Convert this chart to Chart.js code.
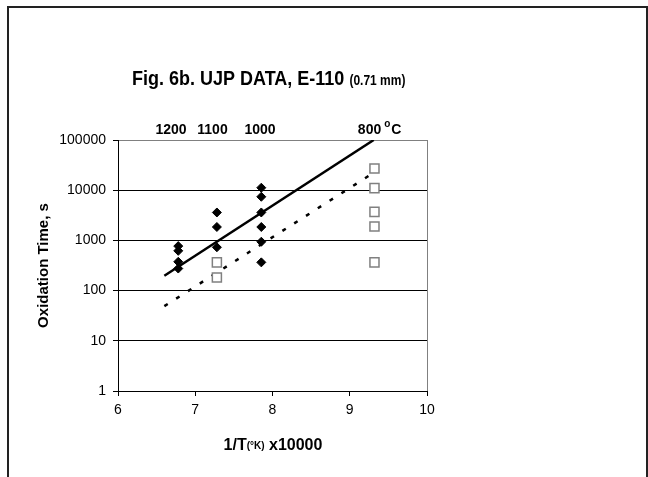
<!DOCTYPE html>
<html>
<head>
<meta charset="utf-8">
<script src="https://cdn.jsdelivr.net/npm/chart.js@4/dist/chart.umd.min.js"></script>
<style>
  html, body { margin: 0; padding: 0; background: #fff; }
  #wrap { width: 648px; height: 477px; }
</style>
</head>
<body>
<div id="wrap"><canvas id="c" width="648" height="477"></canvas></div>
<script>
// ---- data ----
const xTicks = [6, 7, 8, 9, 10];
const yTicks = [1, 10, 100, 1000, 10000, 100000];

// 1/T x 10000 for 1200, 1100, 1000, 800 °C
const diamondX = [6.78, 6.78, 6.78, 6.78, 7.28, 7.28, 7.28, 7.855, 7.855, 7.855, 7.855, 7.855, 7.855];
const diamondY = [770, 620, 375, 275, 3600, 1850, 730, 11200, 7400, 3600, 1850, 940, 365];

const squareX = [7.28, 7.28, 9.32, 9.32, 9.32, 9.32, 9.32];
const squareY = [365, 183, 27000, 11000, 3700, 1900, 365];

const solidLineX = [6.6, 9.31];
const solidLineY = [198, 100000];

const dashLineX = [6.6, 9.25];
const dashLineY = [49, 19500];

const topLabels = ['1200', '1100', '1000', '800'];
const topLabelX = [6.686, 7.223, 7.838, 9.256];

const titleMain = 'Fig. 6b. UJP DATA, E-110';
const titleSub = '(0.71 mm)';
const yTitle = 'Oxidation Time, s';

const pts = (xs, ys) => xs.map((x, i) => ({ x: x, y: ys[i] }));

const FONT = '"Liberation Sans", Arial, sans-serif';

const decor = {
  id: 'decor',
  afterDraw(chart) {
    const ctx = chart.ctx;
    const ca = chart.chartArea;
    const xs = chart.scales.x;
    ctx.save();
    // outer frame
    ctx.strokeStyle = '#222';
    ctx.lineWidth = 2;
    ctx.strokeRect(8, 7, 639, 490);
    // right border of plot area
    ctx.strokeStyle = '#808080';
    ctx.lineWidth = 1;
    ctx.beginPath();
    ctx.moveTo(Math.round(ca.right) + 0.5, ca.top);
    ctx.lineTo(Math.round(ca.right) + 0.5, ca.bottom);
    ctx.stroke();

    ctx.fillStyle = '#000';
    ctx.textBaseline = 'alphabetic';
    // title
    ctx.save();
    ctx.translate(132, 85);
    ctx.scale(1, 1.15);
    ctx.font = 'bold 18px ' + FONT;
    ctx.textAlign = 'left';
    ctx.fillText(titleMain, 0, 0);
    const w1 = ctx.measureText(titleMain).width;
    ctx.font = 'bold 12px ' + FONT;
    ctx.fillText(titleSub, w1 + 5, 0);
    ctx.restore();

    // top temperature labels
    ctx.font = 'bold 14px ' + FONT;
    ctx.textAlign = 'center';
    topLabels.forEach((t, i) => {
      ctx.fillText(t, xs.getPixelForValue(topLabelX[i]), 134);
    });
    const lastX = xs.getPixelForValue(topLabelX[topLabelX.length - 1]);
    const lastW = ctx.measureText(topLabels[topLabels.length - 1]).width;
    ctx.textAlign = 'left';
    ctx.font = 'bold 10px ' + FONT;
    ctx.fillText('o', lastX + lastW / 2 + 3, 127);
    ctx.font = 'bold 14px ' + FONT;
    ctx.fillText('C', lastX + lastW / 2 + 10, 134);

    // y title
    ctx.save();
    ctx.translate(48, (ca.top + ca.bottom) / 2);
    ctx.rotate(-Math.PI / 2);
    ctx.font = 'bold 15px ' + FONT;
    ctx.textAlign = 'center';
    ctx.fillText(yTitle, 0, 0);
    ctx.restore();

    // x title
    const p1 = '1/T', p2 = '(°K)', p3 = ' x10000';
    ctx.font = 'bold 16px ' + FONT;
    const a = ctx.measureText(p1).width, c = ctx.measureText(p3).width;
    ctx.font = 'bold 10px ' + FONT;
    const b = ctx.measureText(p2).width;
    const total = a + b + c;
    let x0 = 273 - total / 2;
    const by = 450;
    ctx.textAlign = 'left';
    ctx.font = 'bold 16px ' + FONT;
    ctx.fillText(p1, x0, by);
    ctx.font = 'bold 10px ' + FONT;
    ctx.fillText(p2, x0 + a, by - 1);
    ctx.font = 'bold 16px ' + FONT;
    ctx.fillText(p3, x0 + a + b, by);
    ctx.restore();
  }
};

new Chart(document.getElementById('c'), {
  type: 'scatter',
  data: {
    datasets: [
      {
        label: 'solid',
        type: 'line',
        data: pts(solidLineX, solidLineY),
        borderColor: '#000',
        borderWidth: 2.5,
        pointRadius: 0,
        fill: false,
        showLine: true,
        order: 3
      },
      {
        label: 'dashed',
        type: 'line',
        data: pts(dashLineX, dashLineY),
        borderColor: '#000',
        borderWidth: 2.5,
        borderDash: [4, 10],
        pointRadius: 0,
        fill: false,
        showLine: true,
        order: 4
      },
      {
        label: 'diamonds',
        data: pts(diamondX, diamondY),
        pointStyle: 'rectRot',
        pointRadius: 4.5,
        backgroundColor: '#000',
        borderColor: '#000',
        borderWidth: 1,
        order: 1
      },
      {
        label: 'squares',
        data: pts(squareX, squareY),
        pointStyle: 'rect',
        pointRadius: 6.4,
        backgroundColor: '#fff',
        borderColor: '#808080',
        borderWidth: 1.5,
        order: 2
      }
    ]
  },
  options: {
    responsive: false,
    animation: false,
    devicePixelRatio: 1,
    layout: { padding: { top: 140, right: 221, left: 0, bottom: 0 } },
    plugins: { legend: { display: false }, tooltip: { enabled: false }, title: { display: false } },
    scales: {
      x: {
        type: 'linear',
        min: 6, max: 10,
        afterBuildTicks: s => { s.ticks = xTicks.map(v => ({ value: v })); },
        ticks: { color: '#000', font: { family: FONT, size: 14 }, padding: 6, maxRotation: 0 },
        grid: { drawOnChartArea: false, drawTicks: true, tickLength: 5, color: '#000', tickColor: '#000' },
        border: { color: '#000', width: 1 },
        afterFit: s => { s.height = 86; }
      },
      y: {
        type: 'logarithmic',
        min: 1, max: 100000,
        afterBuildTicks: s => { s.ticks = yTicks.map(v => ({ value: v })); },
        ticks: { color: '#000', font: { family: FONT, size: 14 }, padding: 7, callback: v => String(v) },
        grid: {
          color: c => (c.tick && c.tick.value === 100000) ? '#808080' : '#000',
          tickColor: '#000',
          tickLength: 5,
          lineWidth: 1
        },
        border: { color: '#000', width: 1 },
        afterFit: s => { s.width = 118; }
      }
    }
  },
  plugins: [decor]
});
</script>
</body>
</html>
